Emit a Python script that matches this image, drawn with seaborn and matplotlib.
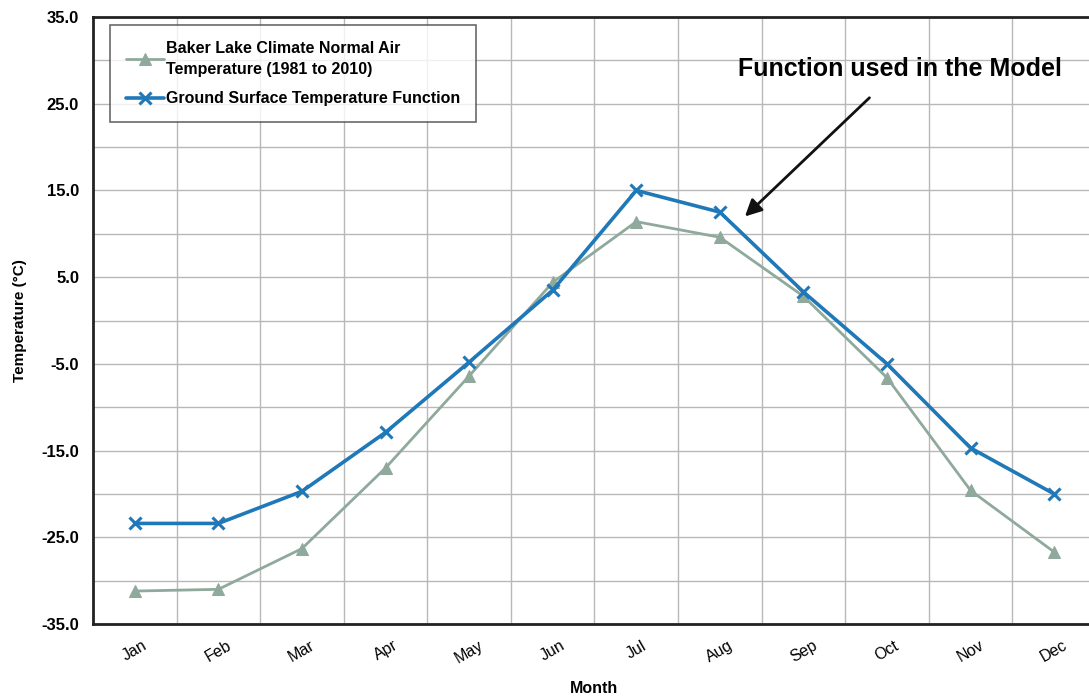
import pandas as pd
import seaborn as sns
import matplotlib.pyplot as plt
import numpy as np

# monthly values
months = ['Jan', 'Feb', 'Mar', 'Apr', 'May', 'Jun', 'Jul', 'Aug', 'Sep', 'Oct', 'Nov', 'Dec']
air_temp = [-31.2, -31.0, -26.3, -17.0, -6.4, 4.4, 11.4, 9.6, 2.8, -6.6, -19.6, -26.7]
ground_temp = [-23.4, -23.4, -19.7, -12.9, -4.8, 3.5, 15.0, 12.5, 3.3, -5.0, -14.7, -20.0]
y_ticks = [35.0, 25.0, 15.0, 5.0, -5.0, -15.0, -25.0, -35.0]

air_label = 'Baker Lake Climate Normal Air\nTemperature (1981 to 2010)'
ground_label = 'Ground Surface Temperature Function'

sns.set_theme(style='white')
plt.rcParams['font.family'] = ['Liberation Sans', 'DejaVu Sans']
plt.rcParams['text.color'] = 'black'
plt.rcParams['xtick.color'] = 'black'
plt.rcParams['ytick.color'] = 'black'
plt.rcParams['axes.labelcolor'] = 'black'

df = pd.DataFrame({'Month': months, 'idx': range(len(months)),
                   'air': air_temp, 'ground': ground_temp})

fig = plt.figure(figsize=(10.89, 6.98), dpi=100)
ax = fig.add_axes([0.0854, 0.106, 0.921, 0.8696])

sns.lineplot(data=df, x='idx', y='air', ax=ax, color='#8fa99c', linewidth=2,
             marker='^', markersize=8, markeredgecolor='#8fa99c', label=air_label)
sns.lineplot(data=df, x='idx', y='ground', ax=ax, color='#1f78b8', linewidth=2.6,
             marker='x', markersize=8, markeredgewidth=2.2, markeredgecolor='#1f78b8',
             label=ground_label)

ax.set_xlim(-0.5, 11.5)
ax.set_ylim(-35, 35)

# gridlines: every 5 degrees, and between the months
ax.set_yticks(y_ticks)
ax.set_yticklabels(['%.1f' % v for v in y_ticks], fontsize=12, fontweight='bold')
ax.set_yticks(np.arange(-30, 35, 10), minor=True)
ax.set_xticks(range(len(months)))
ax.set_xticklabels(months, rotation=30, fontsize=11.5)
ax.set_xticks(np.arange(0.5, 11, 1), minor=True)
ax.grid(True, which='major', axis='y', color='#b8b8b8', linewidth=1)
ax.grid(True, which='minor', axis='both', color='#b8b8b8', linewidth=1)
ax.tick_params(axis='both', which='both', length=0, pad=10)
ax.tick_params(axis='x', pad=10)

for s in ax.spines.values():
    s.set_color('#222222')
    s.set_linewidth(2)

ax.set_xlabel('Month', fontsize=11.5, fontweight='bold', labelpad=11)
ax.set_ylabel('Temperature (°C)', fontsize=11, fontweight='bold', labelpad=10)

leg = ax.legend(loc='upper left', bbox_to_anchor=(0.017, 0.987), borderaxespad=0,
                prop={'size': 11.5, 'weight': 'bold'},
                frameon=True, fancybox=False, edgecolor='#444444',
                handlelength=2.4, handletextpad=0.1, borderpad=1.0, labelspacing=0.9)
leg.get_frame().set_linewidth(1.2)
for t in leg.get_texts():
    t.set_linespacing(1.5)

ax.annotate('Function used in the Model', xy=(7.3, 12.0), xytext=(9.15, 29.0),
            fontsize=18, fontweight='bold', ha='center', va='center',
            arrowprops=dict(arrowstyle='-|>', color='#111111', lw=2, mutation_scale=25,
                            shrinkA=14, shrinkB=0))

fig.savefig('out.png', dpi=100)
